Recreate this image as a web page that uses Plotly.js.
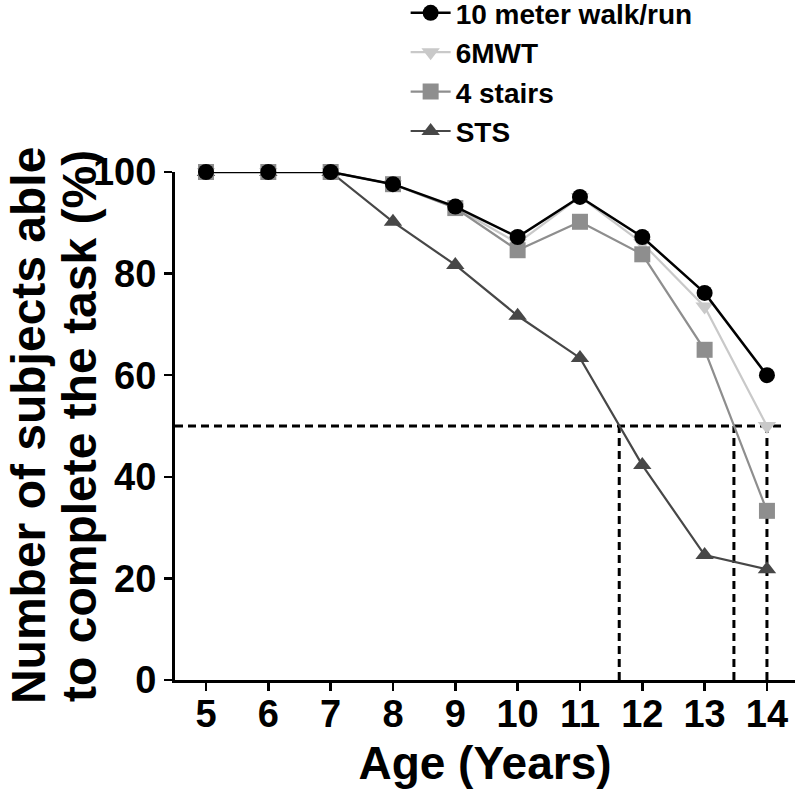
<!DOCTYPE html>
<html>
<head>
<meta charset="utf-8">
<script src="https://cdn.plot.ly/plotly-3.0.1.min.js"></script>
<style>html,body{margin:0;padding:0;background:#fff;}#chart{width:800px;height:790px;}</style>
</head>
<body>
<div id="chart"></div>
<script>
var ages = [5, 6, 7, 8, 9, 10, 11, 12, 13, 14];
var walkRun10m = [100, 100, 100, 97.6, 93.2, 87.2, 95.1, 87.2, 76.2, 60];
var sixMWT = [100, 100, 100, 97.6, 93.0, 86.0, 95.1, 86.0, 73.5, 50];
var stairs4 = [100, 100, 100, 97.6, 92.9, 84.6, 90.2, 83.8, 65.0, 33.3];
var sts = [100, 100, 100, 90.2, 81.7, 71.7, 63.4, 42.3, 24.6, 21.8];
var seriesNames = ["10 meter walk/run", "6MWT", "4 stairs", "STS"];
var threshold = 50;
var crossAges = [11.63, 13.47, 14];
var yTicks = [0, 20, 40, 60, 80, 100];
var xTitle = "Age (Years)";
var yTitleLines = ["Number of subjects able", "to complete the task (%)"];

var FONT = "Liberation Sans, Arial, Helvetica, sans-serif";

function tr(y, name, color, symbol, lw, rank) {
  return {
    x: ages, y: y, name: name, type: "scatter", mode: "lines+markers",
    line: {color: color, width: lw},
    marker: {color: color, symbol: symbol, size: 16},
    cliponaxis: false, legendrank: rank
  };
}

var data = [
  tr(sts, seriesNames[3], "#474747", "triangle-up", 2.2, 4),
  tr(sixMWT, seriesNames[1], "#c9c9c9", "triangle-down", 2.2, 2),
  tr(stairs4, seriesNames[2], "#8e8e8e", "square", 2.2, 3),
  tr(walkRun10m, seriesNames[0], "#000000", "circle", 2.5, 1)
];

var dashStyle = {color: "#000", width: 3, dash: "8px,5px"};
var shapes = [{type: "line", xref: "x", yref: "y", x0: 4.503, x1: 14.23, y0: threshold, y1: threshold, line: dashStyle, layer: "below"}];
crossAges.forEach(function (a) {
  shapes.push({type: "line", xref: "x", yref: "y", x0: a, x1: a, y0: 0, y1: threshold, line: dashStyle, layer: "below"});
});

var annotations = [
  {text: yTitleLines[0], xref: "paper", yref: "paper", x: -0.237, y: 0.5, textangle: -90, showarrow: false,
   xanchor: "center", yanchor: "middle", font: {family: FONT, size: 48, weight: "bold", color: "#000"}},
  {text: yTitleLines[1], xref: "paper", yref: "paper", x: -0.155, y: 0.5, textangle: -90, showarrow: false,
   xanchor: "center", yanchor: "middle", font: {family: FONT, size: 48, weight: "bold", color: "#000"}}
];

var layout = {
  width: 800, height: 790,
  margin: {l: 175, r: 5, t: 172, b: 110, pad: 0, autoexpand: false},
  paper_bgcolor: "#fff", plot_bgcolor: "#fff",
  font: {family: FONT, color: "#000", weight: "bold"},
  showlegend: true,
  legend: {x: 0.372, y: 1.362, xref: "paper", yref: "paper", xanchor: "left", yanchor: "top", bgcolor: "rgba(0,0,0,0)",
           itemwidth: 40,
           font: {family: FONT, size: 28, weight: "bold", color: "#000"}},
  xaxis: {
    range: [4.503, 14.45], tickmode: "array", tickvals: ages, ticktext: ages.map(String),
    showgrid: false, zeroline: false, showline: true, linecolor: "#000", linewidth: 3,
    ticks: "outside", ticklen: 8, tickwidth: 2.5, tickcolor: "#000", ticklabelstandoff: -10,
    tickfont: {family: FONT, size: 38, weight: "bold", color: "#000"},
    title: {text: xTitle, font: {family: FONT, size: 46, weight: "bold", color: "#000"}, standoff: 14}
  },
  yaxis: {
    range: [0, 100], tickmode: "array", tickvals: yTicks, ticktext: yTicks.map(String),
    showgrid: false, zeroline: false, showline: true, linecolor: "#000", linewidth: 3,
    ticks: "outside", ticklen: 8, tickwidth: 2.5, tickcolor: "#000",
    tickfont: {family: FONT, size: 38, weight: "bold", color: "#000"}
  },
  shapes: shapes,
  annotations: annotations
};

Plotly.newPlot("chart", data, layout, {displayModeBar: false, staticPlot: true});
</script>
</body>
</html>
